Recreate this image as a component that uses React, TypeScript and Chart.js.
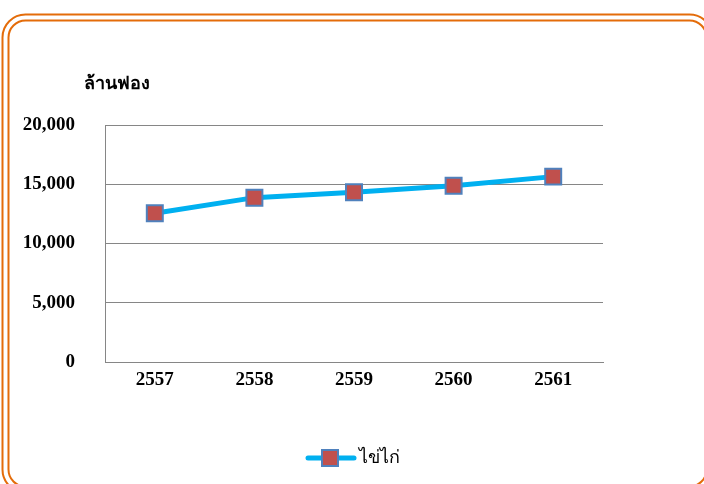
import React, { useEffect, useRef } from "react";
import { Chart, registerables } from "chart.js";

Chart.register(...registerables);

const years: string[] = ["2557", "2558", "2559", "2560", "2561"];
const eggs: number[] = [12550, 13870, 14325, 14883, 15643];
const seriesLabel = "ไข่ไก่";
const unitLabel = "ล้านฟอง";
const yMin = 0;
const yMax = 20000;
const yStep = 5000;

const LINE = "#00B0F0";
const MARK_FILL = "#C0504D";
const MARK_EDGE = "#4F81BD";
const GRID = "#868686";
const FRAME = "#E46C0A";
const FONT = "'Liberation Serif', 'Times New Roman', serif";

function makeLegendIcon(): HTMLCanvasElement {
  const c = document.createElement("canvas");
  c.width = 62;
  c.height = 20;
  const g = c.getContext("2d")!;
  g.strokeStyle = LINE;
  g.lineWidth = 5;
  g.lineCap = "round";
  g.beginPath();
  g.moveTo(12, 10);
  g.lineTo(58, 10);
  g.stroke();
  g.fillStyle = MARK_FILL;
  g.fillRect(26, 2, 16, 16);
  g.strokeStyle = MARK_EDGE;
  g.lineWidth = 2;
  g.strokeRect(26, 2, 16, 16);
  return c;
}

const decor = {
  id: "decor",
  beforeDraw(chart: any) {
    const ctx = chart.ctx as CanvasRenderingContext2D;
    ctx.save();
    ctx.fillStyle = "#ffffff";
    ctx.fillRect(0, 0, chart.width, chart.height);
    ctx.strokeStyle = FRAME;
    ctx.lineWidth = 2;
    ctx.beginPath();
    (ctx as any).roundRect(2.5, 14.5, 710, 478, 23);
    ctx.stroke();
    ctx.beginPath();
    (ctx as any).roundRect(8.5, 20.5, 698, 466, 17);
    ctx.stroke();
    ctx.restore();
  },
  afterDraw(chart: any) {
    const ctx = chart.ctx as CanvasRenderingContext2D;
    ctx.save();
    ctx.fillStyle = "#000";
    ctx.font = `bold 18px ${FONT}`;
    ctx.textBaseline = "alphabetic";
    ctx.textAlign = "left";
    ctx.fillText(unitLabel, 84, 89);
    ctx.restore();
  },
};

export default function App() {
  const ref = useRef<HTMLCanvasElement | null>(null);

  useEffect(() => {
    if (!ref.current) return;
    const icon = makeLegendIcon();
    const chart = new Chart(ref.current, {
      type: "line",
      data: {
        labels: years,
        datasets: [
          {
            label: seriesLabel,
            data: eggs,
            borderColor: LINE,
            backgroundColor: MARK_FILL,
            borderWidth: 5,
            tension: 0,
            pointStyle: "rect",
            pointRadius: 11.3,
            pointHoverRadius: 11.3,
            pointBackgroundColor: MARK_FILL,
            pointBorderColor: MARK_EDGE,
            pointBorderWidth: 2,
            yAxisID: "y",
          },
        ],
      },
      options: {
        responsive: false,
        animation: false,
        devicePixelRatio: 1,
        layout: { padding: { top: 125, right: 0, bottom: 7, left: 0 } },
        plugins: {
          title: { display: false },
          tooltip: { enabled: false },
          legend: {
            display: true,
            position: "bottom",
            labels: {
              usePointStyle: true,
              pointStyleWidth: 45,
              padding: 19,
              color: "#000",
              font: { family: FONT, size: 18, weight: "normal" },
              generateLabels: () => [
                {
                  text: seriesLabel,
                  pointStyle: icon as any,
                  fillStyle: MARK_FILL,
                  strokeStyle: MARK_EDGE,
                  lineWidth: 0,
                  hidden: false,
                  datasetIndex: 0,
                  fontColor: "#000",
                } as any,
              ],
            },
          },
        },
        scales: {
          x: {
            offset: true,
            grid: { display: false, drawTicks: false },
            border: { display: true, color: GRID, width: 1 },
            ticks: {
              color: "#000",
              padding: 7,
              font: { family: FONT, size: 19, weight: "bold" },
              maxRotation: 0,
            },
            afterFit: (s: any) => {
              s.height = 68;
            },
          },
          y: {
            min: yMin,
            max: yMax,
            grid: { color: GRID, drawTicks: false, lineWidth: 1 },
            border: { display: true, color: GRID, width: 1 },
            ticks: {
              stepSize: yStep,
              color: "#000",
              padding: 30,
              font: { family: FONT, size: 19, weight: "bold" },
              callback: (v: any) => Number(v).toLocaleString("en-US"),
            },
            afterFit: (s: any) => {
              s.width = 105;
            },
          },
          spacer: {
            type: "linear",
            position: "right",
            display: true,
            min: yMin,
            max: yMax,
            grid: { display: false, drawTicks: false },
            border: { display: false },
            ticks: { display: false },
            afterFit: (s: any) => {
              s.width = 101;
            },
          },
        },
      },
      plugins: [decor],
    });
    return () => chart.destroy();
  }, []);

  return (
    <div style={{ position: "fixed", left: 0, top: 0, width: 704, height: 484 }}>
      <canvas ref={ref} width={704} height={484} style={{ display: "block" }} />
    </div>
  );
}
